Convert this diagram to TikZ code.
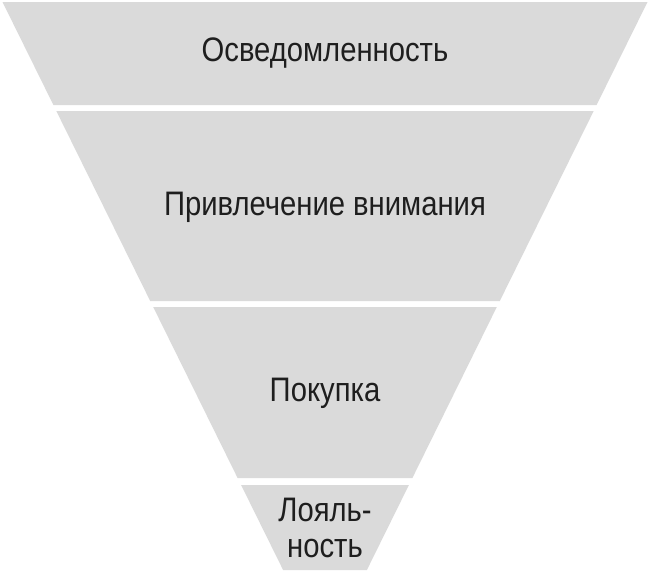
\documentclass[tikz,border=0pt]{standalone}
\usepackage{fontspec}
\setmainfont[FakeStretch=0.86]{Liberation Sans}
\usepackage{xcolor}
\definecolor{bandgray}{HTML}{DADADA}
\definecolor{textgray}{HTML}{1E1E1E}

\begin{document}
\begin{tikzpicture}[x=1pt,y=-1pt]
    \tikzset{band/.style = {fill=bandgray}}
    \tikzset{label/.style = {align=center,text=textgray,inner sep=0pt,anchor=base,
        font=\fontsize{34}{36}\selectfont}}
    \useasboundingbox (0,0) rectangle (650,570);
    % bands
    \fill[band] (2.5,2) -- (647.5,2) -- (596.6,105) -- (53.4,105) -- cycle;
    \fill[band] (56.3,111) -- (593.7,111) -- (499.8,301) -- (150.2,301) -- cycle;
    \fill[band] (153.2,307) -- (496.8,307) -- (412.4,478) -- (237.6,478) -- cycle;
    \fill[band] (241.1,485) -- (408.9,485) -- (366.9,570) -- (283.1,570) -- cycle;

    % labels
    \node[label] (aware) at (325,61) {Осведомленность};
    \node[label] (attract) at (325,215) {Привлечение внимания};
    \node[label] (buy) at (325,401) {Покупка};
    \node[label] (loyal) at (325,557) {Лояль-\\ность};
\end{tikzpicture}
\end{document}
